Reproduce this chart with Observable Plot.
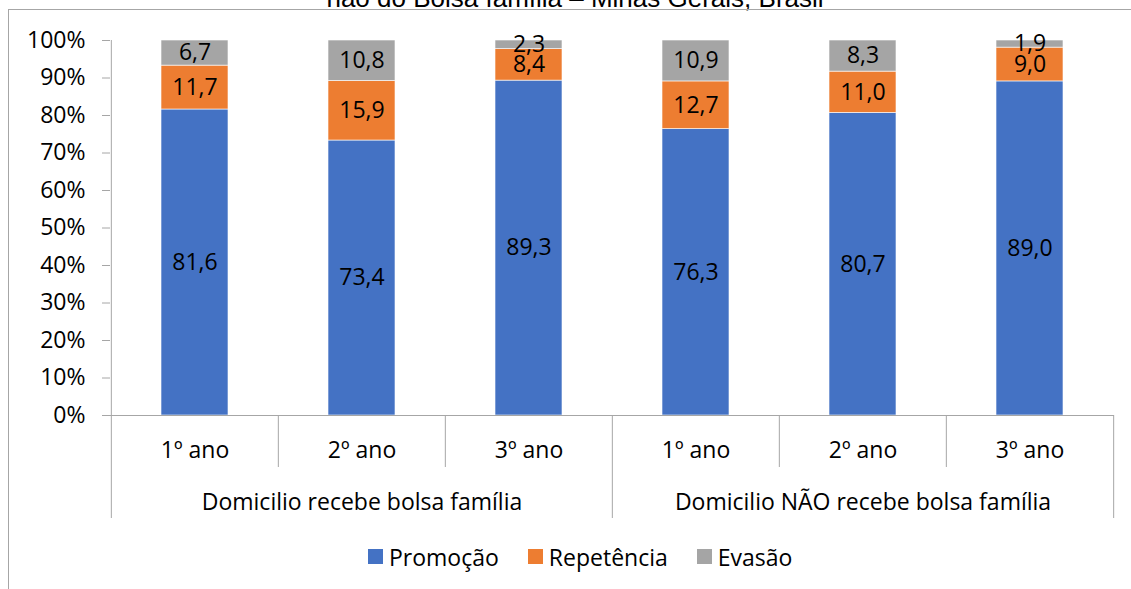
<!DOCTYPE html>
<html><head><meta charset="utf-8">
<script src="https://cdn.jsdelivr.net/npm/d3@7"></script>
<script src="https://cdn.jsdelivr.net/npm/@observablehq/plot@0.6"></script>
<style>
html,body{margin:0;padding:0;background:#fff;}
body{width:1131px;height:589px;overflow:hidden;position:relative;font-family:"Open Sans",sans-serif;}
#title{position:absolute;left:0;width:1150px;text-align:center;top:-15px;font:26px/1 "Liberation Sans",Arial,sans-serif;white-space:nowrap;color:#000;}
#frame{position:absolute;left:8px;top:9px;width:1200px;height:700px;border-top:1px solid #a6a6a6;border-left:1px solid #a6a6a6;z-index:2;pointer-events:none;}
#chart{position:absolute;left:0;top:0;}
#legend{position:absolute;left:368px;top:540px;}
.lg-swatch{margin-right:29px !important;}
.lg-swatch > svg{margin-right:6px !important;}
</style>
</head><body>
<div id="title">não do Bolsa família – Minas Gerais, Brasil</div>
<div id="frame"></div>
<div id="chart"></div>
<div id="legend"></div>
<script>
const groups = ["Domicilio recebe bolsa família", "Domicilio NÃO recebe bolsa família"];
const years = ["1º ano", "2º ano", "3º ano"];
const series = ["Promoção", "Repetência", "Evasão"];
const colors = ["#4472C4", "#ED7D31", "#A5A5A5"];
const promocao   = [81.6, 73.4, 89.3, 76.3, 80.7, 89.0];
const repetencia = [11.7, 15.9, 8.4, 12.7, 11.0, 9.0];
const evasao     = [6.7, 10.8, 2.3, 10.9, 8.3, 1.9];
const yTicks = [0, 0.1, 0.2, 0.3, 0.4, 0.5, 0.6, 0.7, 0.8, 0.9, 1];

const keys = groups.flatMap(g => years.map(y => g + "|" + y));
const valuesBySeries = [promocao, repetencia, evasao];
const data = [];
series.forEach((s, si) => keys.forEach((k, ki) => data.push({key: k, serie: s, value: valuesBySeries[si][ki]})));
const groupOf = k => k.split("|")[0];
const yearOf = k => k.split("|")[1];
const fmt = v => d3.format(".1f")(v).replace(".", ",");

const W = 1131, H = 530, ML = 110, MR = 17, MT = 40, MB = 115;
const step = (W - ML - MR) / keys.length;
const axisColor = "#a6a6a6";
const fontSize = 23;
const font = "'Open Sans', sans-serif";

const middleKeys = groups.map(g => g + "|" + years[1]);
const groupStarts = groups.map(g => g + "|" + years[0]);
const innerStarts = keys.filter(k => yearOf(k) !== years[0]);
const blank = () => "";

const plot = Plot.plot({
  width: W, height: H,
  marginLeft: ML, marginRight: MR, marginTop: MT, marginBottom: MB,
  style: {fontFamily: font, fontSize: fontSize + "px", color: "#000", background: "transparent", overflow: "visible"},
  x: {domain: keys, axis: null, label: null, paddingInner: 0.6, paddingOuter: 0.3},
  y: {domain: [0, 1], axis: null, label: null},
  color: {domain: series, range: colors},
  marks: [
    Plot.barY(data, Plot.stackY({offset: "normalize", x: "key", y: "value", fill: "serie", order: series, stroke: "#fff", strokeWidth: 0.75, strokeOpacity: 0.8})),
    Plot.text(data, Plot.stackY({offset: "normalize", x: "key", y: "value", z: "serie", order: series, text: d => fmt(d.value), fill: "#000", fontSize: fontSize})),
    Plot.ruleY([0], {stroke: axisColor}),
    Plot.ruleX([keys[0]], {dx: -step / 2, stroke: axisColor}),
    Plot.axisY({ticks: yTicks, label: null, tickFormat: d3.format(".0%"), tickSize: 8, tickPadding: 17, stroke: axisColor, color: "#000", fontSize: fontSize}),
    Plot.axisX({ticks: groupStarts, label: null, tickSize: 103, dx: -step / 2, tickFormat: blank, stroke: axisColor}),
    Plot.axisX({ticks: [keys[keys.length - 1]], label: null, tickSize: 103, dx: step / 2, tickFormat: blank, stroke: axisColor}),
    Plot.axisX({ticks: innerStarts, label: null, tickSize: 52, dx: -step / 2, tickFormat: blank, stroke: axisColor}),
    Plot.text(keys, {x: d => d, frameAnchor: "bottom", dy: 35, text: d => yearOf(d), lineAnchor: "middle", fill: "#000", fontSize: fontSize}),
    Plot.text(middleKeys, {x: d => d, frameAnchor: "bottom", dy: 87, text: d => groupOf(d), lineAnchor: "middle", fill: "#000", fontSize: fontSize})
  ]
});
document.getElementById("chart").appendChild(plot);

const legend = plot.legend("color", {legend: "swatches", swatchSize: 15, className: "lg", style: {fontFamily: font, fontSize: fontSize + "px", color: "#000", marginBottom: 0}});
document.getElementById("legend").appendChild(legend);
</script>
</body></html>
